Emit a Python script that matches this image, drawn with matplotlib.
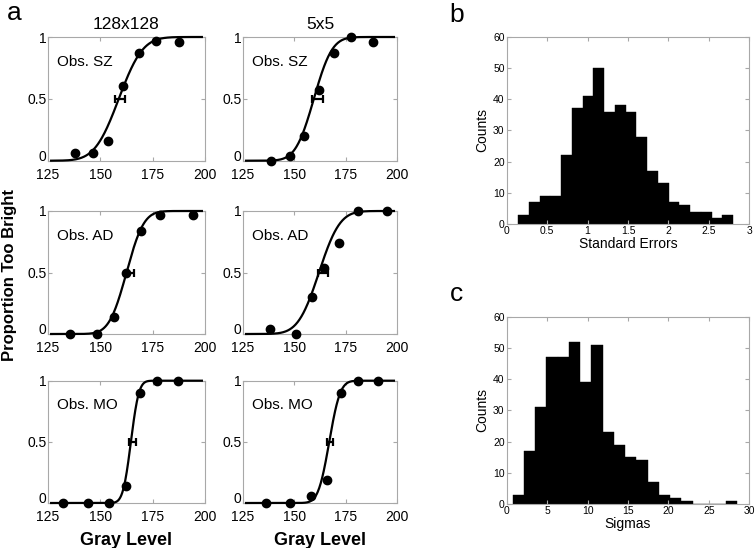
import math
import numpy as np
import matplotlib
matplotlib.use("Agg")
import matplotlib.pyplot as plt
import matplotlib.transforms as mtransforms

plt.rcParams['font.family'] = ['Liberation Sans', 'DejaVu Sans']

# ---------------- data: panel a (psychometric functions) ----------------
observers = ["Obs. SZ", "Obs. AD", "Obs. MO"]
conditions = ["128x128", "5x5"]

# gray levels and proportions, [row][col]
gray_sz_128 = [137.9, 146.6, 153.8, 160.7, 168.6, 176.6, 187.7]
prop_sz_128 = [0.065, 0.065, 0.16, 0.60, 0.87, 0.97, 0.96]
gray_sz_5 = [138.7, 147.8, 154.6, 161.8, 169.4, 177.6, 188.4]
prop_sz_5 = [0.0, 0.04, 0.20, 0.57, 0.87, 1.0, 0.96]

gray_ad_128 = [135.5, 148.3, 156.5, 162.3, 169.3, 178.5, 194.1]
prop_ad_128 = [0.0, 0.0, 0.135, 0.50, 0.84, 0.97, 0.97]
gray_ad_5 = [138.0, 150.6, 158.6, 164.6, 171.6, 180.8, 195.1]
prop_ad_5 = [0.04, 0.0, 0.30, 0.54, 0.74, 1.0, 1.0]

gray_mo_128 = [132.3, 144.3, 154.1, 162.1, 169.0, 177.2, 187.3]
prop_mo_128 = [0.0, 0.0, 0.0, 0.135, 0.90, 1.0, 1.0]
gray_mo_5 = [136.0, 147.9, 158.1, 166.0, 172.9, 180.9, 190.6]
prop_mo_5 = [0.0, 0.0, 0.06, 0.19, 0.90, 1.0, 1.0]

# fitted cumulative-normal parameters (mean, sigma)
fit_mu = [[158.8, 159.5], [162.5, 162.0], [164.6, 167.0]]
fit_sigma = [[9.0, 7.0], [6.5, 8.0], [3.0, 4.2]]
# threshold estimate with standard error (at proportion 0.5)
thr_center = [[159.4, 161.2], [164.7, 164.0], [165.4, 167.3]]
thr_err = [[2.6, 2.7], [1.6, 2.5], [1.6, 1.6]]

gray_data = [[gray_sz_128, gray_sz_5], [gray_ad_128, gray_ad_5], [gray_mo_128, gray_mo_5]]
prop_data = [[prop_sz_128, prop_sz_5], [prop_ad_128, prop_ad_5], [prop_mo_128, prop_mo_5]]

# ---------------- data: panels b and c (histograms) ----------------
se_bin_start = 0.14
se_bin_width = 0.133
se_counts = [3, 7, 9, 9, 22, 37, 41, 50, 36, 38, 36, 28, 17, 13, 7, 6, 4, 4, 2, 3]

sig_bin_start = 0.74
sig_bin_width = 1.39
sig_counts = [3, 17, 31, 47, 47, 52, 39, 51, 23, 19, 15, 14, 7, 3, 2, 1, 0, 0, 0, 1]

# ---------------- figure ----------------
W, H = 755, 548
fig = plt.figure(figsize=(W / 100, H / 100), dpi=100)

def rect(x0, y0, x1, y1):
    return [x0 / W, 1 - y1 / H, (x1 - x0) / W, (y1 - y0) / H]

spine_gray = '#a8a8a8'

col_x = [(48, 205), (243, 397)]
row_y = [(37, 160.7), (211, 334), (380.7, 503)]

def ncdf(x, mu, s):
    return np.array([0.5 * (1 + math.erf((v - mu) / (s * math.sqrt(2)))) for v in x])

for r in range(3):
    for c in range(2):
        ax = fig.add_axes(rect(col_x[c][0], row_y[r][0], col_x[c][1], row_y[r][1]))
        xx = np.linspace(126.5, 198.5, 300)
        ax.plot(xx, ncdf(xx, fit_mu[r][c], fit_sigma[r][c]), color='black', lw=1.6,
                clip_on=False, zorder=3)
        ax.plot(gray_data[r][c], prop_data[r][c], 'o', color='black', ms=6,
                clip_on=False, zorder=4)
        ax.errorbar([thr_center[r][c]], [0.5], xerr=[thr_err[r][c]], fmt='none',
                    ecolor='black', elinewidth=1.6, capsize=3, capthick=1.6, zorder=5)
        ax.set_xlim(125, 200)
        ax.set_ylim(0, 1)
        ax.set_xticks([125, 150, 175, 200])
        ax.set_xticklabels(['125', '150', '175', '200'])
        ax.set_yticks([0, 0.5, 1])
        ax.set_yticklabels(['0', '0.5', '1'])
        ax.tick_params(direction='in', length=3, color=spine_gray, labelsize=10,
                       top=True, right=True, pad=1)
        ax.tick_params(axis='x', pad=5)
        # lift the "0" label slightly so it sits above the "125" label
        lab0 = ax.get_yticklabels()[0]
        lab0.set_transform(lab0.get_transform() +
                           mtransforms.ScaledTranslation(0, 4 / 72, fig.dpi_scale_trans))
        for sp in ax.spines.values():
            sp.set_color(spine_gray)
            sp.set_linewidth(0.8)
        ax.text(0.06, 0.80, observers[r], transform=ax.transAxes, fontsize=11,
                ha='left', va='center')
        if r == 0:
            ax.set_title(conditions[c], fontsize=12.5, pad=6)
        if r == 2:
            ax.set_xlabel('Gray Level', fontsize=13, fontweight='bold', labelpad=6)

fig.text(10 / W, 1 - 275 / H, 'Proportion Too Bright', rotation=90, fontsize=12,
         fontweight='bold', ha='center', va='center')
fig.text(14 / W, 1 - 13 / H, 'a', fontsize=19, ha='center', va='center')
fig.text(457 / W, 1 - 15 / H, 'b', fontsize=19, ha='center', va='center')
fig.text(457 / W, 1 - 294 / H, 'c', fontsize=19, ha='center', va='center')

def hist_axes(r, start, width, counts, xlim, xticks, xticklabels, xlabel):
    ax = fig.add_axes(rect(506.7, r[0], 749.3, r[1]))
    lefts = [start + i * width for i in range(len(counts))]
    ax.bar(lefts, counts, width=width, align='edge', color='black',
           edgecolor='black', linewidth=0.3)
    ax.set_xlim(*xlim)
    ax.set_ylim(0, 60)
    ax.set_xticks(xticks)
    ax.set_xticklabels(xticklabels)
    ax.set_yticks(range(0, 61, 10))
    ax.tick_params(direction='in', length=3, color=spine_gray, labelsize=7.5,
                   top=True, right=True, pad=1.5)
    for sp in ax.spines.values():
        sp.set_color(spine_gray)
        sp.set_linewidth(0.8)
    ax.set_ylabel('Counts', fontsize=10, labelpad=3)
    ax.set_xlabel(xlabel, fontsize=10, labelpad=1)
    return ax

hist_axes((36.7, 224), se_bin_start, se_bin_width, se_counts, (0, 3),
          [0, 0.5, 1, 1.5, 2, 2.5, 3], ['0', '0.5', '1', '1.5', '2', '2.5', '3'],
          'Standard Errors')
hist_axes((316.7, 504), sig_bin_start, sig_bin_width, sig_counts, (0, 30),
          [0, 5, 10, 15, 20, 25, 30], ['0', '5', '10', '15', '20', '25', '30'],
          'Sigmas')

fig.savefig('out.png', dpi=100)
